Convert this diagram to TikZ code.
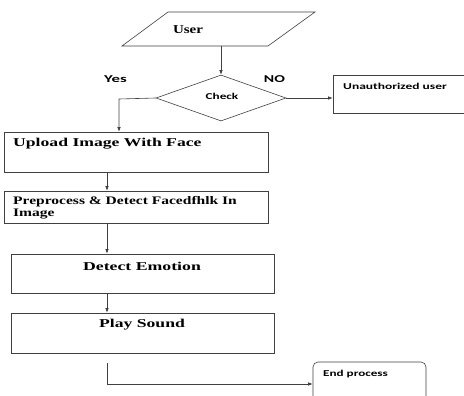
\documentclass[tikz,border=0pt]{standalone}
\usepackage{graphicx}
\usepackage{fontspec}
\setmainfont{Liberation Serif}
\newfontfamily\labelfont{Carlito}
\usetikzlibrary{shapes.geometric,arrows.meta}
% horizontally widened lettering
\newcommand{\wide}[2]{\scalebox{#1}[1]{#2}}
\tikzset{
  box/.style={draw=black!75, line width=0.6pt, rectangle, inner sep=0pt},
  serifbold/.style={font=\bfseries\fontsize{12}{13}\selectfont, inner sep=0pt},
  sansbold/.style={font=\labelfont\bfseries\fontsize{9}{10}\selectfont, inner sep=0pt},
  conn/.style={draw=black!75, line width=0.6pt},
  arr/.style={conn, -{Latex[length=4.5pt,width=3.5pt]}},
}
\begin{document}
\begin{tikzpicture}[x=1pt,y=-1pt]
\useasboundingbox (0,0) rectangle (464,396);
\clip (0,0) rectangle (464,396);

% input parallelogram
\draw[conn] (168,12) -- (315,12) -- (268,46) -- (122,46) -- cycle;
\node[serifbold] (user) at (188,30) {\wide{1.25}{User}};
\coordinate (userbot) at (221,46);

% decision
\node[draw=black!75, line width=0.6pt, diamond, aspect=2.8, minimum width=130pt,
      minimum height=46pt, inner sep=0pt] (check) at (221,98) {};
\node[sansbold] (checktxt) at (222,96) {\wide{1.47}{Check}};
\node[sansbold, font=\labelfont\bfseries\fontsize{10.5}{12}\selectfont] (yes) at (115.5,79) {\wide{1.6}{Yes}};
\node[sansbold, font=\labelfont\bfseries\fontsize{10.5}{12}\selectfont] (no) at (274.5,79) {\wide{1.5}{NO}};

% rejection box
\node[box, minimum width=140pt, minimum height=38pt] (unauth) at (403,94) {};
\node[sansbold, anchor=west] (unauthtxt) at (343,86) {\wide{1.5}{Unauthorized user}};

% processing steps
\node[box, minimum width=264pt, minimum height=40pt] (upload) at (136,152) {};
\node[serifbold, anchor=west] (uploadtxt) at (13,144) {\wide{1.47}{Upload Image With Face}};

\node[box, minimum width=264pt, minimum height=32pt] (prep) at (136,207) {};
\node[serifbold, font=\bfseries\fontsize{11.5}{12}\selectfont, anchor=west] (preptxt1) at (13,202) {\wide{1.35}{Preprocess \& Detect Facedfhlk In}};
\node[serifbold, font=\bfseries\fontsize{11.5}{12}\selectfont, anchor=west] (preptxt2) at (13,214) {\wide{1.35}{Image}};

\node[box, minimum width=263pt, minimum height=39pt] (emotion) at (142.5,273.5) {};
\node[serifbold] (emotiontxt) at (142,266) {\wide{1.48}{Detect Emotion}};

\node[box, minimum width=263pt, minimum height=40pt] (sound) at (142.5,333) {};
\node[serifbold] (soundtxt) at (142,325) {\wide{1.47}{Play Sound}};

% terminal
\node[box, rounded corners=5pt, minimum width=113pt, minimum height=44pt] (endp) at (369.5,384) {};
\node[sansbold, anchor=west] (endtxt) at (323,374) {\wide{1.46}{End process}};
\coordinate (soundout) at (107,363);

% connectors
\draw[arr] (userbot) -- (check.north);
\draw[arr] (check.west) -- (119,99) -- (upload.north -| 119,0);
\draw[arr] (check.east) -- (unauth.west |- check.east);
\draw[arr] (upload.south -| 107,0) -- (prep.north -| 107,0);
\draw[arr] (prep.south -| 107,0) -- (emotion.north -| 107,0);
\draw[arr] (emotion.south -| 107,0) -- (sound.north -| 107,0);
\draw[arr] (soundout) |- (endp.west);
\end{tikzpicture}
\end{document}
